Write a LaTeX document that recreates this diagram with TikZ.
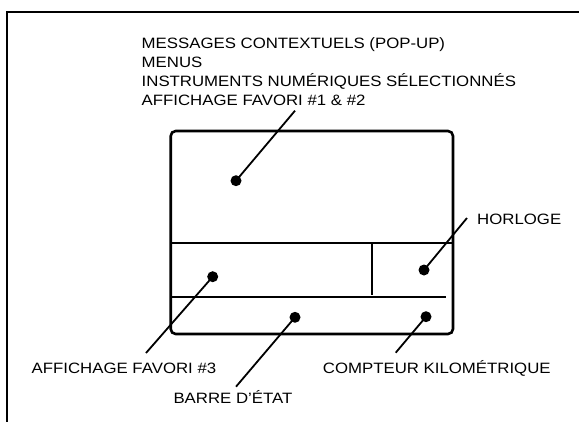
\documentclass[tikz,border=0pt]{standalone}
\usepackage{fontspec}
\setmainfont[FakeStretch=1.12]{Liberation Sans}
\begin{document}
\begin{tikzpicture}[x=1pt,y=-1pt,
  lbl/.style={anchor=base west,inner sep=0pt,font=\fontsize{15}{19}\selectfont},
  dot/.style={circle,fill=black,inner sep=0pt,minimum size=11pt},
  frame/.style={line width=2pt},
  panel/.style={line width=2.6pt,rounded corners=5pt},
  divider/.style={line width=2pt},
  leader/.style={line width=1.8pt}]
\useasboundingbox (0,0) rectangle (579,421);
% outer frame
\draw[frame] (6.7,422) -- (6.7,12) -- (580,12);
% panel
\draw[panel] (170.7,131) rectangle (453,334);
\draw[divider] (172,243) -- (453,243);
\draw[divider] (172,297) -- (446,297);
\draw[divider] (372,243) -- (372,295);
% texts
\node[lbl] (t1) at (141.5,48) {MESSAGES CONTEXTUELS (POP-UP)};
\node[lbl] (t2) at (141.5,67) {MENUS};
\node[lbl] (t3) at (141.5,86) {INSTRUMENTS NUMÉRIQUES SÉLECTIONNÉS};
\node[lbl] (t4) at (141.5,105) {AFFICHAGE FAVORI \#1 \& \#2};
\node[lbl] (horloge) at (477,224.5) {HORLOGE};
\node[lbl] (fav3) at (31.5,373.5) {AFFICHAGE FAVORI \#3};
\node[lbl] (barre) at (173.3,403) {BARRE D'ÉTAT};
\node[lbl] (compteur) at (322.7,373) {COMPTEUR KILOMÉTRIQUE};
% dots
\node[dot] (dtop) at (236,180.7) {};
\node[dot] (dfav) at (212.7,276.7) {};
\node[dot] (dhor) at (424,270) {};
\node[dot] (dbar) at (295,317.3) {};
\node[dot] (dcpt) at (426,316.7) {};
% leader ends
\coordinate (etop) at (295,110.7);
\coordinate (efav) at (146,353);
\coordinate (ehor) at (467,218);
\coordinate (ebar) at (236,386.7);
\coordinate (ecpt) at (395.7,352.7);
\draw[leader] (dtop.center) -- (etop);
\draw[leader] (dfav.center) -- (efav);
\draw[leader] (dhor.center) -- (ehor);
\draw[leader] (dbar.center) -- (ebar);
\draw[leader] (dcpt.center) -- (ecpt);
\end{tikzpicture}
\end{document}
